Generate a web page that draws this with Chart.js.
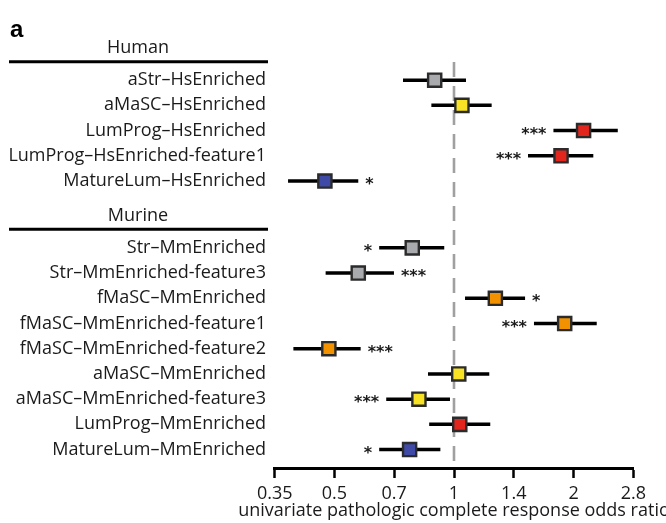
<!DOCTYPE html>
<html>
<head>
<meta charset="utf-8">
<script src="https://cdn.jsdelivr.net/npm/chart.js@4/dist/chart.umd.min.js"></script>
<style>
  html, body { margin: 0; padding: 0; background: #fff; }
  #wrap { width: 666px; height: 523px; }
</style>
</head>
<body>
<div id="wrap"><canvas id="c" width="666" height="523"></canvas></div>
<script>
// ---------- data ----------
const groupNames = ["Human", "Murine"];
const rowLabels = [
  "aStr–HsEnriched", "aMaSC–HsEnriched", "LumProg–HsEnriched",
  "LumProg–HsEnriched-feature1", "MatureLum–HsEnriched",
  "Str–MmEnriched", "Str–MmEnriched-feature3", "fMaSC–MmEnriched",
  "fMaSC–MmEnriched-feature1", "fMaSC–MmEnriched-feature2", "aMaSC–MmEnriched",
  "aMaSC–MmEnriched-feature3", "LumProg–MmEnriched", "MatureLum–MmEnriched"
];
const rowGroup = [0, 0, 0, 0, 0, 1, 1, 1, 1, 1, 1, 1, 1, 1];
const oddsRatio = [0.894, 1.047, 2.12, 1.86, 0.473, 0.785, 0.574, 1.271, 1.90, 0.484, 1.028, 0.816, 1.034, 0.773];
const ciLow     = [0.744, 0.877, 1.78, 1.536, 0.382, 0.648, 0.475, 1.066, 1.59, 0.394, 0.860, 0.675, 0.866, 0.648];
const ciHigh    = [1.072, 1.244, 2.585, 2.243, 0.574, 0.945, 0.706, 1.51, 2.288, 0.582, 1.227, 0.977, 1.234, 0.924];
const signif    = ["", "", "***", "***", "*", "*", "***", "*", "***", "***", "", "***", "", "*"];
const tickValues = [0.35355, 0.5, 0.70711, 1, 1.41421, 2, 2.82843];
const tickLabels = ["0.35", "0.5", "0.7", "1", "1.4", "2", "2.8"];
const xTitle = "univariate pathologic complete response odds ratio";
const panelLetter = "a";

// ---------- styles ----------
const cellColors = {
  aStr: "#A9AAAD", Str: "#A9AAAD", aMaSC: "#F7E225", LumProg: "#E2261E",
  MatureLum: "#3F4AA6", fMaSC: "#F39200"
};
const FONT = "'Open Sans', Lato, sans-serif";
const GROUP_GAP = 1.65;

// row positions (row index + gap between groups)
const rowPos = rowLabels.map((_, i) => i + rowGroup[i] * GROUP_GAP);
const pointColors = rowLabels.map(l => cellColors[l.split("–")[0]]);

const ciDatasets = rowLabels.map((l, i) => ({
  type: "scatter",
  label: l,
  data: [{ x: ciLow[i], y: rowPos[i] }, { x: ciHigh[i], y: rowPos[i] }],
  showLine: true,
  borderColor: "#000",
  borderWidth: 3.5,
  pointRadius: 0,
  order: 2
}));

const markerDataset = {
  type: "scatter",
  label: "OR",
  data: rowLabels.map((_, i) => ({ x: oddsRatio[i], y: rowPos[i] })),
  pointStyle: "rect",
  pointRadius: 9.3,
  pointBackgroundColor: pointColors,
  pointBorderColor: "#2b2b2b",
  pointBorderWidth: 2.4,
  order: 0
};

const forestPlugin = {
  id: "forest",
  beforeDatasetsDraw(chart) {
    const { ctx, chartArea, scales } = chart;
    const x1 = scales.x.getPixelForValue(1);
    ctx.save();
    ctx.strokeStyle = "#A0A0A0";
    ctx.lineWidth = 2.6;
    ctx.setLineDash([15, 9]);
    ctx.beginPath();
    ctx.moveTo(x1, chartArea.top);
    ctx.lineTo(x1, chartArea.bottom);
    ctx.stroke();
    ctx.restore();
  },
  afterDatasetsDraw(chart) {
    const { ctx, chartArea, scales } = chart;
    const xs = scales.x, ys = scales.y;
    const x1 = xs.getPixelForValue(1);
    const labelRight = 266;
    ctx.save();
    // row labels
    ctx.fillStyle = "#1a1a1a";
    ctx.font = "18px " + FONT;
    ctx.textAlign = "right";
    ctx.textBaseline = "middle";
    rowLabels.forEach((l, i) => {
      ctx.fillText(l, labelRight, ys.getPixelForValue(rowPos[i]));
    });
    // group headers
    groupNames.forEach((g, gi) => {
      const first = rowGroup.indexOf(gi);
      const yFirst = ys.getPixelForValue(rowPos[first]);
      ctx.textAlign = "center";
      ctx.fillText(g, 138, yFirst - 32);
      ctx.strokeStyle = "#000";
      ctx.lineWidth = 3;
      ctx.beginPath();
      ctx.moveTo(9, yFirst - 18.5);
      ctx.lineTo(268, yFirst - 18.5);
      ctx.stroke();
    });
    // significance stars
    ctx.font = "bold 16px 'DejaVu Sans', sans-serif";
    ctx.textBaseline = "alphabetic";
    const gap = 7;
    rowLabels.forEach((l, i) => {
      const s = signif[i];
      if (!s) return;
      const y = ys.getPixelForValue(rowPos[i]) + 8;
      const lo = xs.getPixelForValue(ciLow[i]);
      const hi = xs.getPixelForValue(ciHigh[i]);
      const w = ctx.measureText(s).width;
      const rightEnd = hi + gap + w;
      const crossesRef = hi < x1 && rightEnd > x1 - 2;
      const overflow = rightEnd > chartArea.right - 25;
      if (crossesRef || overflow) {
        ctx.textAlign = "right";
        ctx.fillText(s, lo - gap, y);
      } else {
        ctx.textAlign = "left";
        ctx.fillText(s, hi + gap, y);
      }
    });
    // axis title (drawn here so it is not squeezed to the chart width)
    ctx.font = "18px " + FONT;
    ctx.fillStyle = "#1a1a1a";
    ctx.textAlign = "center";
    ctx.textBaseline = "middle";
    ctx.fillText(xTitle, (chartArea.left + chartArea.right) / 2, 511);
    // panel letter
    ctx.font = "bold 24px 'Liberation Sans', Arial, sans-serif";
    ctx.textAlign = "left";
    ctx.fillStyle = "#000";
    ctx.fillText(panelLetter, 10, 30);
    ctx.restore();
  }
};

new Chart(document.getElementById("c"), {
  data: { datasets: [markerDataset, ...ciDatasets] },
  options: {
    responsive: false,
    animation: false,
    devicePixelRatio: 1,
    layout: { padding: { left: 274.7, right: 32.7, top: 62, bottom: 0 } },
    plugins: { legend: { display: false }, tooltip: { enabled: false } },
    scales: {
      x: {
        type: "logarithmic",
        min: tickValues[0],
        max: tickValues[tickValues.length - 1],
        afterBuildTicks: (scale) => { scale.ticks = tickValues.map(v => ({ value: v })); },
        afterFit: (scale) => { scale.height = 55; },
        ticks: {
          autoSkip: false,
          maxRotation: 0,
          padding: 5,
          color: "#1a1a1a",
          font: { family: FONT, size: 18 },
          callback: (v, i) => tickLabels[i]
        },
        grid: { drawOnChartArea: false, drawTicks: true, tickLength: 10, tickWidth: 2.5, tickColor: "#000" },
        border: { display: true, color: "#000", width: 3 },
        title: { display: false }
      },
      y: {
        type: "linear",
        display: false,
        reverse: true,
        min: -0.72,
        max: 15.38
      }
    }
  },
  plugins: [forestPlugin]
});
</script>
</body>
</html>
